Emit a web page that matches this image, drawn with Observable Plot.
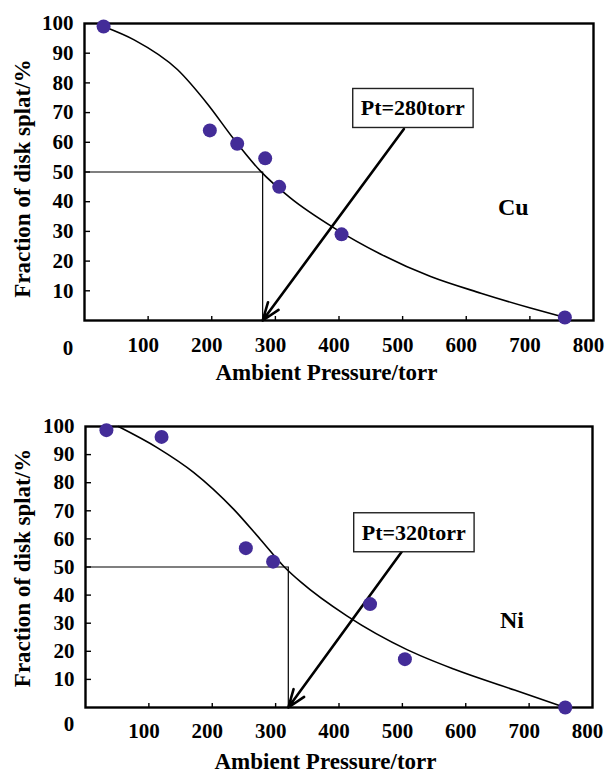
<!DOCTYPE html>
<html>
<head>
<meta charset="utf-8">
<script src="https://cdn.jsdelivr.net/npm/d3@7"></script>
<script src="https://cdn.jsdelivr.net/npm/@observablehq/plot@0.6"></script>
<style>
  body { margin: 0; background: #fff; }
  #chart svg { display: block; }
</style>
</head>
<body>
<div id="chart"></div>
<script>
// Tick values shared by both panels
const xTicks = [100, 200, 300, 400, 500, 600, 700, 800];
const yTicks = [10, 20, 30, 40, 50, 60, 70, 80, 90, 100];
const halfFraction = 50;

// Cu: measured fraction of disk splats vs ambient pressure
const cuPressure = [30, 197, 240, 284, 306, 404, 755];
const cuFraction = [99, 64, 59.5, 54.6, 45, 29, 1];
// Cu: fitted trend curve
const cuFitPressure = [30, 78, 146, 193, 235, 277, 324, 392, 465, 544, 623, 701, 755];
const cuFitFraction = [99, 94.5, 84.5, 73, 61, 50.2, 41.2, 31.2, 22.4, 14.8, 9.2, 4.2, 1];
const cuTransition = 280;

// Ni: measured fraction of disk splats vs ambient pressure
const niPressure = [33, 120, 253, 296, 449, 504, 757];
const niFraction = [98.7, 96.3, 56.7, 51.9, 36.8, 17.2, 0];
// Ni: fitted trend curve
const niFitPressure = [52, 113, 171, 234, 276, 313, 340, 413, 508, 582, 677, 757];
const niFitFraction = [100, 92.5, 83.6, 70.5, 59.8, 50.2, 44.6, 32.5, 20.5, 13.6, 6.2, 0];
const niTransition = 320;

// Callout label anchors and arrow tails (data units)
const materials = ["Cu", "Ni"];
const materialX = [674, 673];
const materialY = [38, 31];
const calloutX = [516, 518];
const calloutY = [71.4, 62.2];
const arrowTailX = [502, 499];
const arrowTailY = [64.5, 55.4];

const zip = (xs, ys) => xs.map((x, i) => ({x, y: ys[i]}));

function panel(k, pressure, fraction, fitP, fitF, pt, layout) {
  const {height, marginTop, marginBottom, marginLeft, marginRight, zeroDy, tickDy, xTitleDx, xTitleDy, yTitleDx, yTitleDy} = layout;
  const width = 605;
  const plotW = width - marginLeft - marginRight;
  const plotH = height - marginTop - marginBottom;
  const points = zip(pressure, fraction);
  const fit = zip(fitP, fitF);
  const callout = [{
    label: `Pt=${pt}torr`,
    lx: calloutX[k], ly: calloutY[k],
    x1: arrowTailX[k], y1: arrowTailY[k],
    x2: pt, y2: 0
  }];

  return Plot.plot({
    width, height, marginTop, marginBottom, marginLeft, marginRight,
    style: {
      fontFamily: "'Liberation Serif', 'Times New Roman', serif",
      fontWeight: "bold",
      fontSize: "21px",
      color: "black",
      background: "white"
    },
    x: {domain: [0, 800], axis: null},
    y: {domain: [0, 100], axis: null},
    marks: [
      // inward tick marks
      Plot.tickX(xTicks.slice(0, -1), {x: d => d, insetTop: plotH - 4, strokeWidth: 1.4}),
      Plot.tickY(yTicks.slice(0, -1), {y: d => d, insetRight: plotW - 6, strokeWidth: 1.4}),
      // tick labels
      Plot.text(xTicks, {x: d => d, y: 0, text: d => String(d), dx: -5, dy: tickDy, fontSize: 21}),
      Plot.text(yTicks, {x: 0, y: d => d, text: d => String(d), textAnchor: "end", dx: -11, fontSize: 21}),
      Plot.text([0], {x: 0, y: 0, text: d => String(d), dx: -16.5, dy: zeroDy, fontSize: 21}),
      // axis titles
      Plot.text(["Ambient Pressure/torr"], {frameAnchor: "bottom", text: d => d, textAnchor: "middle", dx: xTitleDx, dy: xTitleDy, fontSize: 23}),
      Plot.text(["Fraction of disk splat/%"], {frameAnchor: "left", text: d => d, textAnchor: "middle", rotate: -90, dx: yTitleDx, dy: yTitleDy, fontSize: 23}),
      // 50 % crossing guide lines
      Plot.ruleY([halfFraction], {x1: 0, x2: pt, strokeWidth: 1.2}),
      Plot.ruleX([pt], {y1: 0, y2: halfFraction, strokeWidth: 1.2}),
      // fitted trend
      Plot.line(fit, {x: "x", y: "y", curve: "monotone-x", strokeWidth: 1.6}),
      // callout arrow and label
      Plot.arrow(callout, {x1: "x1", y1: "y1", x2: "x2", y2: "y2", strokeWidth: 2.6, headLength: 11, headAngle: 40}),
      Plot.text(callout, {x: "lx", y: "ly", text: "label", fontSize: 22}),
      // material name
      Plot.text([materials[k]], {x: materialX[k], y: materialY[k], text: d => d, fontSize: 24}),
      Plot.frame({strokeWidth: 2.4}),
      // measurements
      Plot.dot(points, {x: "x", y: "y", r: 7, fill: "#432c98", stroke: "none"})
    ]
  });
}

// Boxed callout: white rectangle with a thin border behind the "Pt=" label
function boxCallouts(svg) {
  svg.querySelectorAll("text").forEach(t => {
    if (!t.textContent.startsWith("Pt=")) return;
    const b = t.getBBox();
    const padX = 8, padY = 7;
    const r = document.createElementNS("http://www.w3.org/2000/svg", "rect");
    r.setAttribute("x", b.x - padX);
    r.setAttribute("y", b.y - padY);
    r.setAttribute("width", b.width + 2 * padX);
    r.setAttribute("height", b.height + 2 * padY);
    if (t.getAttribute("transform")) r.setAttribute("transform", t.getAttribute("transform"));
    r.setAttribute("fill", "white");
    r.setAttribute("stroke", "#222");
    r.setAttribute("stroke-width", "1.4");
    t.parentNode.insertBefore(r, t);
  });
}

const root = document.getElementById("chart");
const cuChart = panel(0, cuPressure, cuFraction, cuFitPressure, cuFitFraction, cuTransition, {
  height: 398, marginTop: 23, marginBottom: 78, marginLeft: 84, marginRight: 12,
  zeroDy: 27.5, tickDy: 24.5, xTitleDx: -12.5, xTitleDy: 59, yTitleDx: -62, yTitleDy: 6.5
});
root.appendChild(cuChart);
boxCallouts(cuChart);

const niChart = panel(1, niPressure, niFraction, niFitPressure, niFitFraction, niTransition, {
  height: 383, marginTop: 28, marginBottom: 74, marginLeft: 85, marginRight: 13,
  zeroDy: 17, tickDy: 23.3, xTitleDx: -13.5, xTitleDy: 61.8, yTitleDx: -62.5, yTitleDy: 1
});
root.appendChild(niChart);
boxCallouts(niChart);
</script>
</body>
</html>
